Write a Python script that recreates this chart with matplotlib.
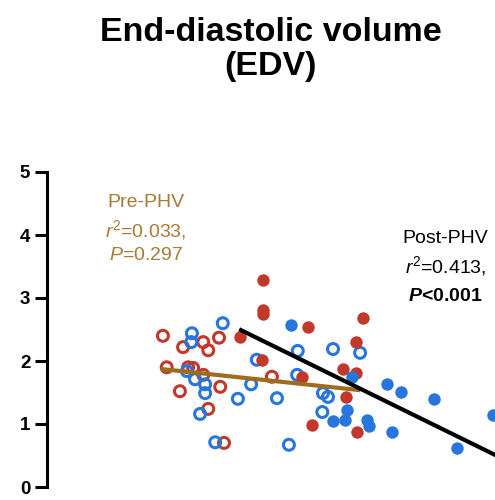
import matplotlib
matplotlib.use('Agg')
import matplotlib.pyplot as plt

# x in arbitrary maturity units (x axis is cropped in the source), y = EDV
# pre-PHV (open markers)
pre_red_x = [1.84, 2.16, 2.48, 2.56, 2.73, 1.90, 2.24, 2.32, 2.48, 2.11, 2.75, 2.56, 2.81, 3.57]
pre_red_y = [2.40, 2.22, 2.30, 2.17, 2.37, 1.90, 1.90, 1.89, 1.78, 1.52, 1.59, 1.24, 0.70, 1.75]
pre_blue_x = [2.79, 2.30, 2.29, 2.22, 2.35, 2.51, 2.51, 2.43, 2.67, 3.03, 3.33, 3.24, 3.98, 4.54,
              4.97, 3.97, 3.65, 4.38, 4.46, 4.37, 3.84]
pre_blue_y = [2.60, 2.44, 2.30, 1.84, 1.71, 1.63, 1.49, 1.16, 0.71, 1.40, 2.02, 1.63, 2.16, 2.19,
              2.13, 1.78, 1.41, 1.49, 1.43, 1.19, 0.67]
# post-PHV (filled markers)
post_red_x = [3.06, 3.43, 3.43, 3.43, 4.14, 5.02, 4.90, 4.70, 4.90, 4.75, 4.21, 4.92, 3.41, 4.05]
post_red_y = [2.38, 3.29, 2.81, 2.75, 2.54, 2.68, 2.30, 1.87, 1.81, 1.43, 0.98, 0.87, 2.02, 1.75]
post_blue_x = [3.87, 5.40, 5.62, 6.14, 7.08, 4.76, 4.54, 4.73, 5.08, 5.11, 5.48, 6.51, 4.84]
post_blue_y = [2.57, 1.63, 1.51, 1.40, 1.14, 1.22, 1.05, 1.06, 1.06, 0.97, 0.87, 0.62, 1.75]

# regression lines
pre_fit_x = [1.84, 4.94]
pre_fit_y = [1.87, 1.54]
post_fit_x = [3.08, 7.11]
post_fit_y = [2.49, 0.51]

yticks = [0, 1, 2, 3, 4, 5]

plt.rcParams['font.family'] = ['Liberation Sans', 'DejaVu Sans']
plt.rcParams['mathtext.fontset'] = 'custom'
plt.rcParams['mathtext.rm'] = 'Liberation Sans'
plt.rcParams['mathtext.it'] = 'Liberation Sans:italic'
plt.rcParams['mathtext.bf'] = 'Liberation Sans:bold'
plt.rcParams['mathtext.bfit'] = 'Liberation Sans:italic:bold'

red = '#C0392B'
blue = '#2676DE'
brown_line = '#9E6C1E'
brown_text = '#A87A35'

fig = plt.figure(figsize=(4.95, 5.0), dpi=100)
ax = fig.add_axes([47 / 495, 13 / 500, 448 / 495, 315 / 500])

ax.scatter(pre_red_x, pre_red_y, s=62, facecolors='none', edgecolors=red, linewidths=2.2, zorder=2)
ax.scatter(pre_blue_x, pre_blue_y, s=62, facecolors='none', edgecolors=blue, linewidths=2.2, zorder=2)
ax.scatter(post_red_x, post_red_y, s=80, color=red, linewidths=0, zorder=3)
ax.scatter(post_blue_x, post_blue_y, s=80, color=blue, linewidths=0, zorder=3)

ax.plot(pre_fit_x, pre_fit_y, color=brown_line, linewidth=3, zorder=4)
ax.plot(post_fit_x, post_fit_y, color='black', linewidth=3, zorder=4)

ax.set_xlim(0, 448 / 63)
ax.set_ylim(0, 5)
ax.set_yticks(yticks)
ax.set_yticklabels([str(t) for t in yticks], fontweight='bold', fontsize=13.5)
ax.set_xticks([])
for side in ['top', 'right', 'bottom']:
    ax.spines[side].set_visible(False)
ax.spines['left'].set_linewidth(2.2)
ax.tick_params(axis='y', length=8.5, width=2.2, pad=3.5)

ax.set_title('End-diastolic volume\n(EDV)', fontsize=24.5, fontweight='bold', pad=70,
             linespacing=1.12)

ax.text(1.57, 4.65, 'Pre-PHV\n$r^2$=0.033,\n$P$=0.297', color=brown_text, fontsize=14,
        ha='center', va='top', linespacing=1.38)
ax.text(6.32, 4.08, 'Post-PHV\n$r^2$=0.413,', color='black', fontsize=14,
        ha='center', va='top', linespacing=1.38)
ax.text(6.32, 2.96, r'$\mathbfit{P}$<0.001', color='black', fontsize=14, fontweight='bold',
        ha='center', va='baseline')

fig.savefig('out.png', dpi=100)
